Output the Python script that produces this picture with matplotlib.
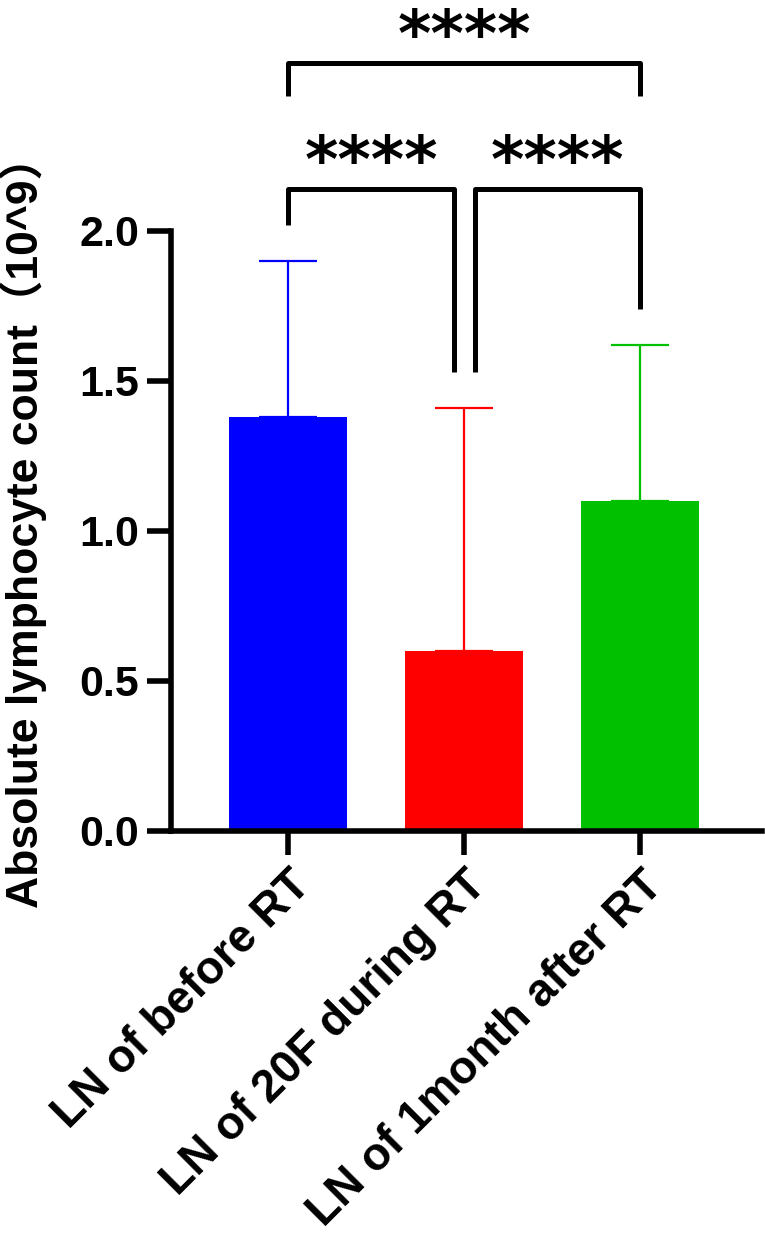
import matplotlib
matplotlib.use("Agg")
import matplotlib.pyplot as plt
import numpy as np

# data
groups = ["LN of before RT", "LN of 20F during RT", "LN of 1month after RT"]
means  = [1.38, 0.60, 1.10]
sds    = [0.52, 0.81, 0.52]
colors = ["#0000ff", "#ff0000", "#00c000"]

# significance brackets: (left x, right x, bar height, left leg end, right leg end, label)
brackets = [
    (0.0, 0.94, 2.14, 2.02, 1.53, "****"),
    (1.06, 2.0, 2.14, 1.53, 1.74, "****"),
    (0.0, 2.0, 2.56, 2.45, 2.45, "****"),
]

FONT = ["Liberation Sans", "Noto Sans CJK SC", "DejaVu Sans"]
plt.rcParams["font.family"] = FONT
plt.rcParams["font.weight"] = "bold"

fig = plt.figure(figsize=(7.65, 12.37), dpi=100)
ax = fig.add_axes([171 / 765, (1237 - 831) / 1237, (762 - 171) / 765, 831 / 1237])

x = np.arange(len(groups))
ax.bar(x, means, width=0.67, color=colors, linewidth=0, zorder=2)
for xi, m, s, c in zip(x, means, sds, colors):
    ax.errorbar(xi, m, yerr=[[0], [s]], fmt="none", ecolor=c,
                elinewidth=1.6, capsize=21, capthick=1.6, zorder=1)

for x1, x2, h, l1, l2, label in brackets:
    ax.plot([x1, x1, x2, x2], [l1, h, h, l2], color="black", lw=3.6,
            clip_on=False, solid_joinstyle="round", solid_capstyle="butt")
    ax.text((x1 + x2) / 2, h + 0.085, label, ha="center", va="center",
            fontsize=46, fontweight="bold", family="DejaVu Sans")

ax.set_xlim(-0.665, 2.69)
ax.set_ylim(0, 2.77)
ax.set_yticks([0, 0.5, 1.0, 1.5, 2.0])
ax.set_yticklabels(["0.0", "0.5", "1.0", "1.5", "2.0"])
ax.set_xticks(x)
ax.set_xticklabels(groups, rotation=45, ha="right", rotation_mode="anchor",
                   fontsize=33)

for sp in ["top", "right"]:
    ax.spines[sp].set_visible(False)
ax.spines["left"].set_bounds(0, 2.0)
for sp in ["left", "bottom"]:
    ax.spines[sp].set_linewidth(4)
ax.tick_params(axis="both", length=17, width=4, pad=6)
ax.tick_params(axis="y", labelsize=31)

ax.set_ylabel("Absolute lymphocyte count（10^9）", fontsize=32,
              fontweight="bold")
ax.yaxis.set_label_coords(-0.21, 0.372)

fig.savefig("out.png", dpi=100)
